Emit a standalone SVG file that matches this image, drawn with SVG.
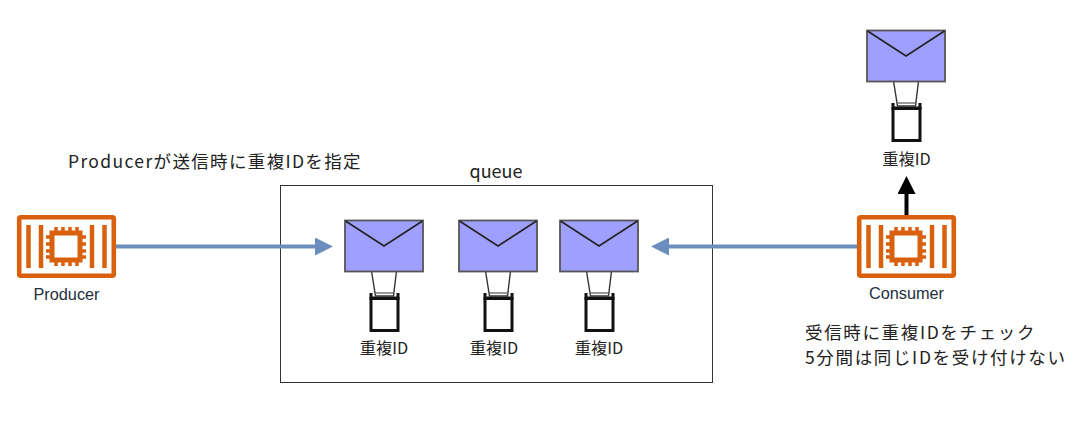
<svg xmlns="http://www.w3.org/2000/svg" width="1087" height="428" viewBox="0 0 1087 428">
<style>
.t{font-family:"Noto Sans CJK JP","Noto Sans CJK SC",sans-serif;fill:#222;font-size:16.300px}
.n{font-size:17.500px;letter-spacing:1.350px}
.m{letter-spacing:1.650px}
.l{font-family:"Liberation Sans",Arial,sans-serif;fill:#232f3e;font-size:16.300px;text-anchor:middle}
.c{text-anchor:middle}
.o{fill:none;stroke:#d9600c}
.b{stroke:#6c8ebf;stroke-width:4;fill:none}
</style>
<defs>
<g id="icon">
<rect x="2.200" y="2.200" width="94.600" height="58.600" rx="1.500" class="o" stroke-width="4.600"/>
<path d="M11.500 10V53M24 10V53M75 10V53M87.500 10V53" class="o" stroke-width="4.500"/>
<rect x="35" y="18" width="28" height="27" class="o" stroke-width="5"/>
<path d="M39 12V17M46 12V17M53 12V17M60 12V17M39 46V51M46 46V51M53 46V51M60 46V51M29 22H34M29 29H34M29 36H34M29 42H34M64 22H69M64 29H69M64 36H69M64 42H69" class="o" stroke-width="3.500"/>
</g>
<g id="msg">
<rect x="26.500" y="78.500" width="27" height="32" fill="#fff" stroke="#111" stroke-width="3"/>
<path d="M26.500 73V80M53.500 73V80M26 78H54" fill="none" stroke="#111" stroke-width="3"/>
<path d="M27 51L31 76H49L52 51Z" fill="#fff" stroke="#333" stroke-width="1.400"/>
<path d="M31 73H49" fill="none" stroke="#555" stroke-width="1.200"/>
<rect x="0.500" y="0.500" width="78" height="51" fill="#9f9fff" stroke="#555" stroke-width="1.800"/>
<path d="M1 1L39.500 26L78 1" fill="none" stroke="#222" stroke-width="1.600"/>
</g>
<marker id="ah" markerUnits="userSpaceOnUse" markerWidth="18" markerHeight="18" refX="0" refY="9" orient="auto"><path d="M0 0L18 9L0 18Z" fill="#6c8ebf"/></marker>
<marker id="ak" markerUnits="userSpaceOnUse" markerWidth="18" markerHeight="18" refX="0" refY="9" orient="auto"><path d="M0 0L18 9L0 18Z" fill="#000"/></marker>
</defs>
<g id="queue">
<rect x="280.500" y="185.500" width="432" height="197" fill="#fff" stroke="#333" stroke-width="1"/>
<text x="496" y="178" class="t c" style="font-size:18px">queue</text>
</g>
<g id="connectors">
<path d="M116 246.500H315" class="b" marker-end="url(#ah)"/>
<path d="M857 246.500H669" class="b" marker-end="url(#ah)"/>
<path d="M906.500 215V194" stroke="#000" stroke-width="4" fill="none" marker-end="url(#ak)"/>
</g>
<g id="producer">
<use href="#icon" x="17" y="215"/>
<text x="66.500" y="300" class="l">Producer</text>
</g>
<g id="consumer">
<use href="#icon" x="857" y="215"/>
<text x="906.500" y="299" class="l">Consumer</text>
</g>
<g id="msg1"><use href="#msg" x="344.500" y="220"/><text x="384" y="354" class="t c">重複ID</text></g>
<g id="msg2"><use href="#msg" x="458.500" y="220"/><text x="494" y="354" class="t c">重複ID</text></g>
<g id="msg3"><use href="#msg" x="559.500" y="220"/><text x="599" y="354" class="t c">重複ID</text></g>
<g id="msg4"><use href="#msg" x="866.500" y="30"/><text x="906.500" y="165" class="t c">重複ID</text></g>
<g id="note-producer"><text x="68" y="168" class="t n">Producerが送信時に重複IDを指定</text></g>
<g id="note-consumer">
<text x="805" y="339" class="t n m">受信時に重複IDをチェック</text>
<text x="805" y="364" class="t n m">5分間は同じIDを受け付けない</text>
</g>
</svg>
